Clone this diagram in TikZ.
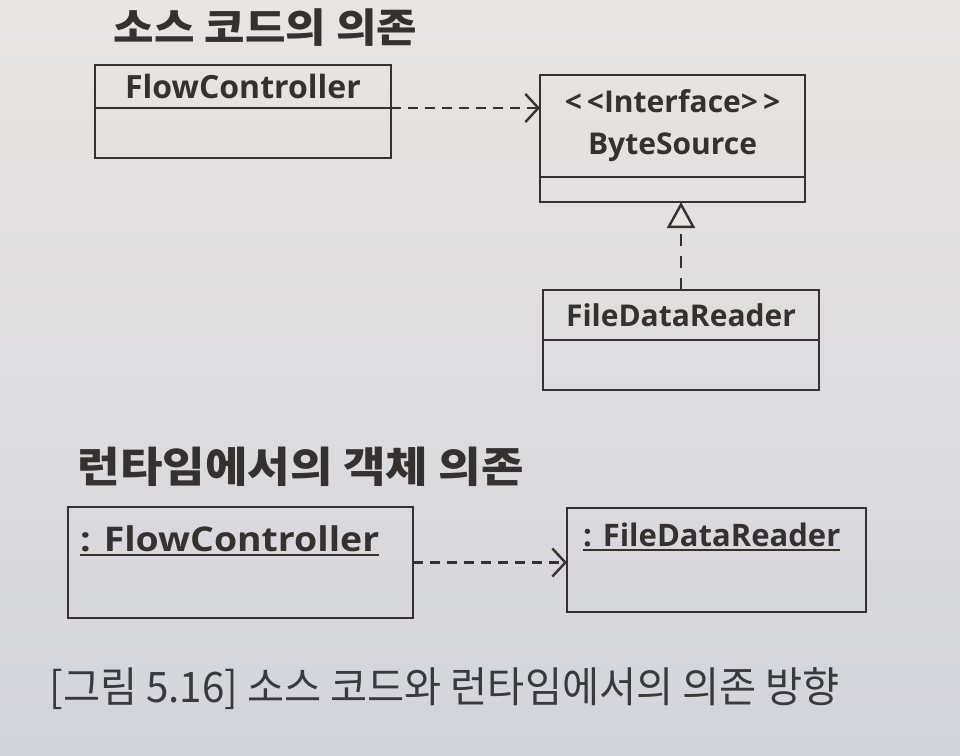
\documentclass[tikz,border=0pt]{standalone}
\usepackage{fontspec}
\setmainfont{Open Sans}
\newfontfamily\wideopen{Open Sans}[FakeStretch=1.1]
\newfontfamily\krwide{Noto Sans CJK KR}[FakeStretch=1.1]
\newfontfamily\krcap{Noto Sans CJK KR}[FakeStretch=0.96]
\newcommand\thickul[1]{\leavevmode\setbox0=\hbox{#1}\rlap{\vrule height -3pt depth 5pt width \wd0}\box0}
\usetikzlibrary{arrows.meta}
\definecolor{paperA}{HTML}{E8E5E3}
\definecolor{paperB}{HTML}{D3D4DA}
\definecolor{ink}{HTML}{363131}
\definecolor{captionink}{HTML}{3A3A3C}
\begin{document}
\begin{tikzpicture}[x=1pt,y=-1pt,
  box/.style={draw=ink, line width=2.7pt, outer sep=0pt, inner sep=0pt, text=ink,
    font=\bfseries\fontsize{30}{36}\selectfont, anchor=north west},
  dep/.style={draw=ink, line width=2.4pt, dash pattern=on 10pt off 7pt,
    -{Straight Barb[length=13pt,width=28pt,line width=2.4pt]}},
  real/.style={draw=ink, line width=2.2pt, dash pattern=on 12pt off 10pt,
    -{Triangle[open,length=26pt,width=28pt,line width=2.4pt,fill=paperA]}},
  title/.style={anchor=base west, text=ink, font=\krwide\bfseries\fontsize{40}{44}\selectfont},
  objtext/.style={anchor=base west, text=ink, inner sep=0pt, font=\bfseries\fontsize{31}{36}\selectfont}
]
\useasboundingbox (0,0) rectangle (960,755);
\shade[top color=paperA, bottom color=paperB] (0,0) rectangle (960,755);

% titles
\node[title] (t1) at (110,42) {소스 코드의 의존};
\node[title, font=\krwide\bfseries\fontsize{42}{46}\selectfont] (t2) at (74,482) {런타임에서의 객체 의존};

% FlowController class
\node[box, minimum width=296pt, minimum height=43pt, font=\bfseries\fontsize{32}{36}\selectfont] (fch) at (95,65) {FlowController};
\node[box, minimum width=296pt, minimum height=50pt, anchor=north] (fcb) at (fch.south) {};

% ByteSource interface
\node[box, minimum width=265pt, minimum height=102pt, align=center] (bsh) at (540,75)
  {\raisebox{2pt}{<\,<Interface>\,>}\\[4pt]ByteSource};
\node[box, minimum width=265pt, minimum height=25pt, anchor=north] (bsb) at (bsh.south) {};

% FileDataReader class
\node[box, minimum width=276pt, minimum height=50pt] (fdh) at (543,290) {FileDataReader};
\node[box, minimum width=276pt, minimum height=50pt, anchor=north] (fdb) at (fdh.south) {};

% connectors (source code)
\draw[dep] (fcb.north east) -- (fcb.north east -| bsh.west);
\draw[real] (fdh.north) -- (fdh.north |- bsb.south);

% runtime objects
\node[box, minimum width=345pt, minimum height=111pt] (ofc) at (68,507) {};
\node[objtext, font=\wideopen\bfseries\fontsize{34}{38}\selectfont] (ofct) at (80,551) {\thickul{: FlowController}};
\node[box, minimum width=299pt, minimum height=104pt] (ofr) at (567,508) {};
\node[objtext] (ofrt) at (583,546) {\thickul{: FileDataReader}};
\draw[dep] (ofc.east) -- (ofc.east -| ofr.west);

% caption
\node[anchor=base west, text=captionink, font=\krcap\fontsize{42}{46}\selectfont] (cap) at (46,702)
  {[그림 5.16] 소스 코드와 런타임에서의 의존 방향};
\end{tikzpicture}
\end{document}
